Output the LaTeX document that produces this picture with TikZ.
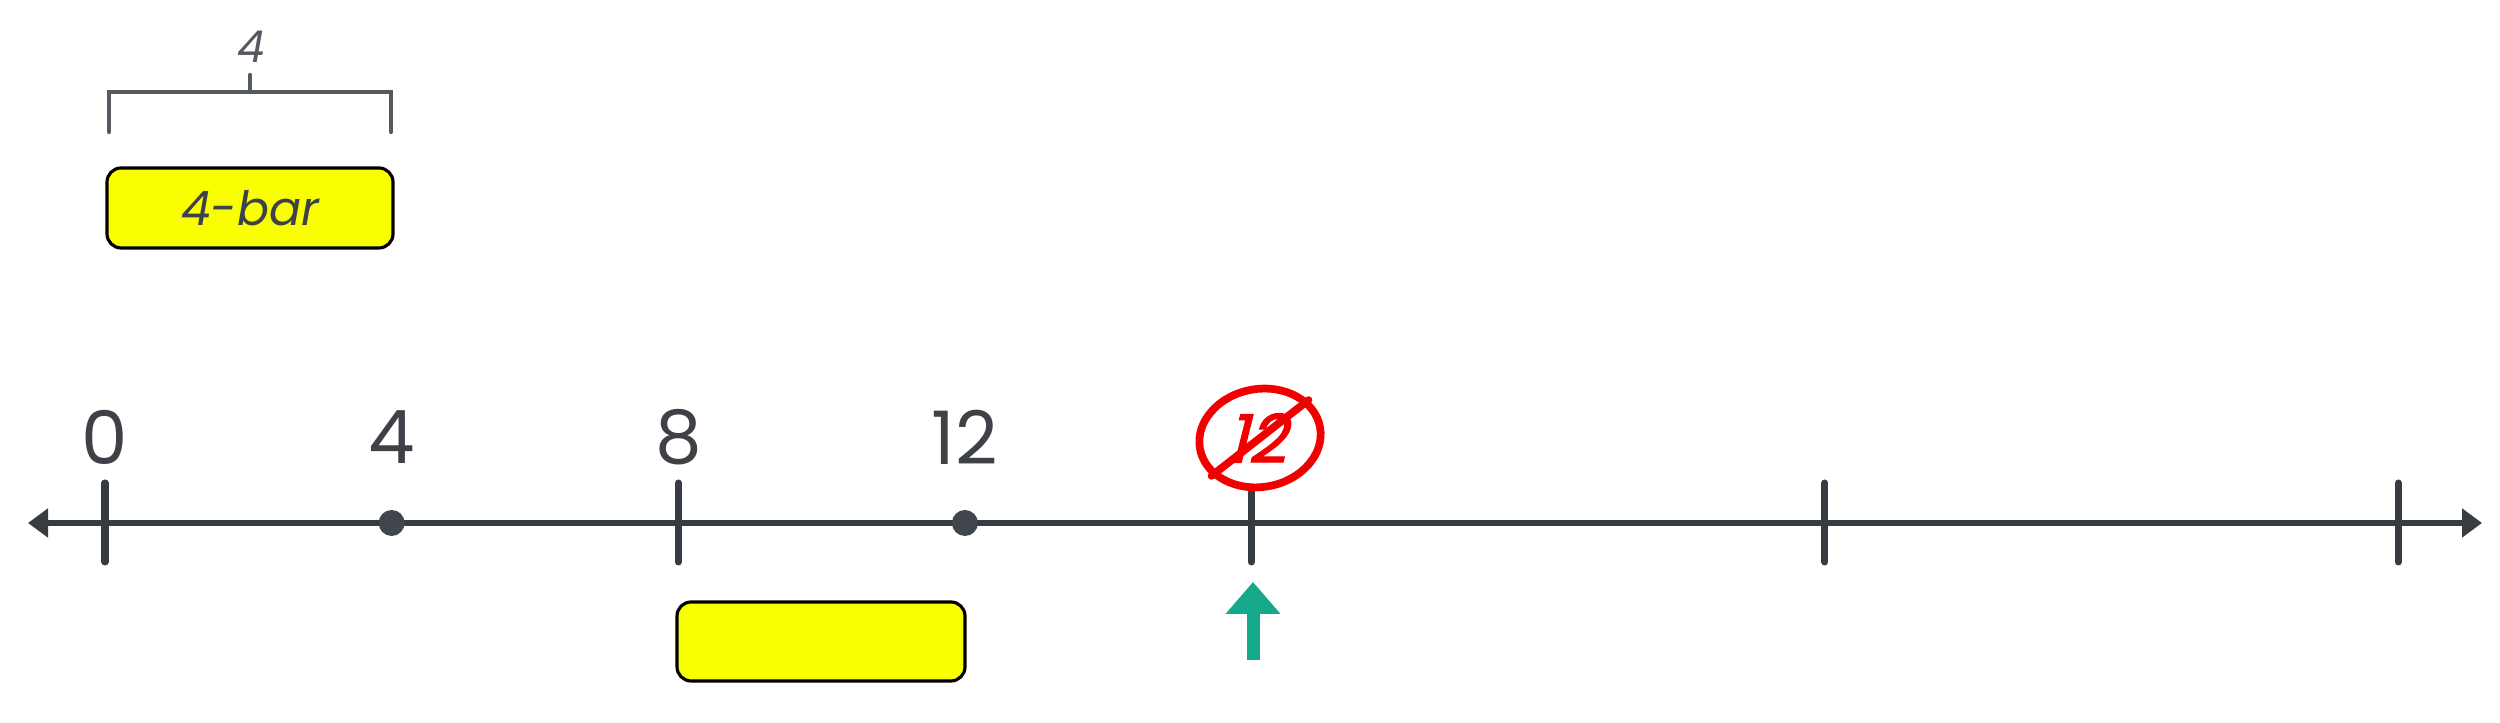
\documentclass[tikz,border=0pt]{standalone}
\usepackage{fontspec}
\setmainfont{Poppins}
\usepackage{tikz}
\usetikzlibrary{arrows.meta, positioning, calc, shapes.geometric}
\definecolor{figink}{HTML}{373C43}
\definecolor{figtext}{HTML}{3E4247}
\definecolor{figgray}{HTML}{555A60}
\definecolor{figyellow}{HTML}{F9FF00}
\definecolor{figgreen}{HTML}{16A88A}
\definecolor{figred}{HTML}{F20000}
\tikzset{
  numline/.style={{Triangle[length=2mm, width=2.8mm]}-{Triangle[length=2mm, width=2.8mm]},
    line width=1.7pt, figink},
  numtick/.style={line width=2pt, figink, line cap=round},
  numdot/.style={circle, fill=figink!95, inner sep=0pt, minimum size=2.6mm},
  numlabel/.style={font=\fontsize{21}{25}\selectfont, text=figtext, inner sep=0pt},
  barbox/.style={draw=black, line width=0.9pt, fill=figyellow, rounded corners=4pt,
    minimum width=2.86cm, minimum height=0.8cm, inner sep=0pt,
    font=\fontsize{13.5}{16}\selectfont\itshape, text=figtext},
  bracket/.style={line width=1.2pt, figgray, line cap=round},
  crossmark/.style={ellipse, draw=figred, line width=2.2pt, rotate=10,
    minimum width=1.22cm, minimum height=0.98cm, inner sep=0pt},
  uparrow/.style={-{Triangle[length=3.2mm, width=5.3mm]}, line width=3.7pt, figgreen},
}

\begin{document}
\begin{tikzpicture}
  \useasboundingbox (0,0) rectangle (25,7.23);
  % number line
  \coordinate (lend) at (0.28,2);
  \coordinate (rend) at (24.82,2);
  \draw[numline] (lend) -- (rend);
  \foreach \v/\top in {0/2.40,8/2.40,16/2.31,24/2.40,32/2.40}
    \draw[numtick] ({1.05+0.7166*\v},1.61) -- ({1.05+0.7166*\v},\top);
  \foreach \v in {4,12}
    \node[numdot] (dot\v) at ({1.05+0.7166*\v},2) {};
  \foreach \v in {0,4,8,12}
    \node[numlabel] (lab\v) at ({1.05+0.7166*\v},2.86) {\v};
  % crossed out label
  \node[crossmark] (cross) at (12.60,2.85) {};
  \node[font=\fontsize{19}{22}\selectfont\addfontfeature{FakeSlant=0.25,FakeBold=1.5},
    text=figred, inner sep=0pt] (crosstext) at (12.56,2.85) {12};
  \draw[figred, line width=2.2pt, line cap=round] (cross.208) -- (cross.28);
  % marker below
  \coordinate (gbase) at (12.53,0.63);
  \coordinate (gtip) at (12.53,1.41);
  \draw[uparrow] (gbase) -- (gtip);
  % bars
  \node[barbox] (bar4) at (2.50,5.15) {4-bar};
  \node[barbox, minimum width=2.88cm, minimum height=0.79cm] (bar8) at (8.21,0.815) {};
  \draw[bracket] (1.09,5.91) -- (1.09,6.31) -- (3.91,6.31) -- (3.91,5.91);
  \draw[bracket] (2.50,6.31) -- (2.50,6.48);
  \node[font=\fontsize{12.5}{15}\selectfont\itshape, text=figgray, inner sep=0pt] (len) at (2.51,6.76) {4};
\end{tikzpicture}
\end{document}
